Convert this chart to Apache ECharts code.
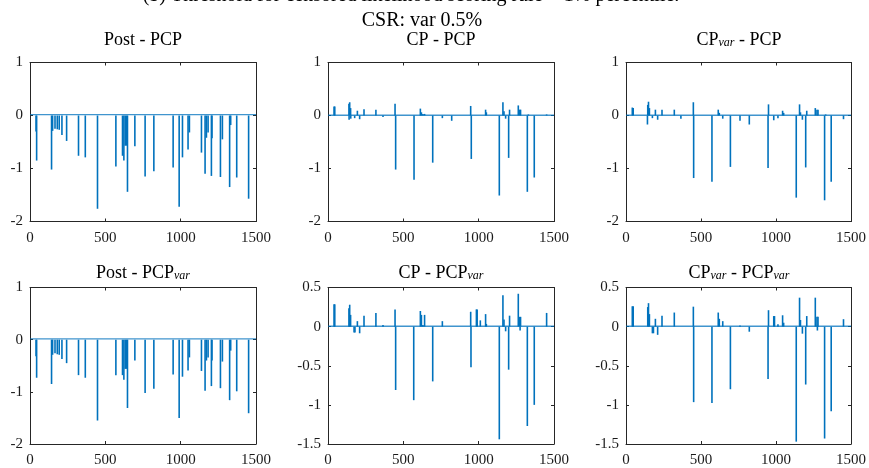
<!DOCTYPE html>
<html>
<head>
<meta charset="utf-8">
<script src="https://cdn.jsdelivr.net/npm/echarts@6/dist/echarts.min.js"></script>
<style>html,body{margin:0;padding:0;background:#fff}#c{width:869px;height:468px}</style>
</head>
<body>
<div id="c"></div>
<script>
// ---- Data ----
const mainTitle1 = '(b) Threshold for censored likelihood scoring rule = 1% percentile.';
const mainTitle2 = 'CSR: var 0.5%';
const xTicks = [0, 500, 1000, 1500];

const postPcp = [[40,-0.3],[44,-0.85],[143,-1.02],[150,-0.29],[166,-0.25],[181,-0.26],[194,-0.27],[212,-0.37],[243,-0.48],[322,-0.76],[367,-0.79],[448,-1.76],[570,-0.96],[614,-0.76],[623,-0.85],[632,-0.57],[641,-0.57],[647,-1.44],[696,-0.58],[764,-1.15],[822,-1.05],[950,-0.98],[990,-1.72],[1012,-0.79],[1049,-0.64],[1058,-0.32],[1138,-0.70],[1162,-1.10],[1171,-0.42],[1182,-0.32],[1204,-1.14],[1208,-0.43],[1264,-1.16],[1277,-0.45],[1325,-1.35],[1332,-0.18],[1372,-1.17],[1451,-1.57]];

const cpPcp = [[40,0.17],[45,0.17],[139,0.22],[140,-0.08],[144,0.25],[150,0.14],[151,-0.06],[177,-0.05],[195,0.09],[210,-0.07],[239,0.12],[318,0.11],[365,-0.03],[445,0.22],[449,-1.02],[571,-1.21],[613,0.13],[620,0.06],[630,0.03],[641,0.03],[695,-0.89],[759,-0.05],[821,-0.10],[947,0.18],[951,-0.82],[1046,0.11],[1051,0.06],[1137,-1.51],[1161,0.25],[1168,0.08],[1179,-0.06],[1199,-0.80],[1205,0.11],[1263,0.19],[1272,0.11],[1278,0.11],[1323,-1.44],[1330,0.02],[1369,-1.17],[1451,0.02]];

const cpVarPcp = [[42,0.15],[48,0.14],[143,-0.17],[145,0.20],[150,0.26],[156,0.14],[176,-0.05],[196,0.11],[211,-0.08],[240,0.11],[322,0.11],[366,-0.06],[449,0.25],[451,-1.18],[573,-1.25],[615,0.11],[622,0.05],[645,-0.06],[696,-0.97],[760,-0.10],[822,-0.17],[947,-0.99],[950,0.21],[985,-0.09],[1013,-0.05],[1044,0.09],[1051,0.05],[1135,-1.55],[1157,0.21],[1163,0.06],[1176,-0.08],[1198,-0.98],[1205,0.09],[1262,0.14],[1273,0.11],[1280,0.11],[1324,-1.60],[1331,0.02],[1368,-1.25],[1450,-0.07]];

const postPcpVar = [[40,-0.32],[44,-0.73],[143,-0.85],[150,-0.29],[166,-0.26],[181,-0.28],[194,-0.29],[212,-0.37],[243,-0.45],[322,-0.68],[367,-0.73],[448,-1.55],[570,-0.68],[614,-0.68],[623,-0.77],[632,-0.56],[641,-0.56],[647,-1.31],[696,-0.40],[764,-1.02],[822,-0.94],[950,-0.67],[990,-1.50],[1012,-0.71],[1049,-0.59],[1058,-0.34],[1138,-0.60],[1162,-0.98],[1171,-0.40],[1182,-0.34],[1204,-0.89],[1208,-0.40],[1264,-0.93],[1277,-0.42],[1325,-1.16],[1332,-0.21],[1372,-0.99],[1451,-1.41]];

const cpPcpVar = [[40,0.285],[45,0.285],[139,0.235],[144,0.28],[150,0.15],[173,-0.075],[179,-0.075],[195,0.07],[210,-0.085],[239,0.14],[318,0.175],[365,0.02],[445,0.22],[449,-0.81],[569,-0.94],[613,0.20],[620,0.15],[630,0.02],[641,0.15],[695,-0.70],[759,0.07],[947,0.19],[949,-0.52],[985,0.22],[990,0.22],[1011,0.08],[1046,0.16],[1051,0.035],[1137,-1.44],[1161,0.40],[1168,0.09],[1179,-0.06],[1199,-0.55],[1205,0.14],[1263,0.42],[1272,0.125],[1275,-0.05],[1278,0.125],[1323,-1.27],[1369,-1.00],[1451,0.175]];

const cpVarPcpVar = [[42,0.26],[48,0.26],[145,0.25],[150,0.30],[156,0.16],[176,-0.085],[183,-0.085],[196,0.10],[211,-0.105],[240,0.14],[322,0.18],[449,0.255],[451,-0.965],[573,-0.975],[615,0.18],[622,0.10],[645,0.07],[696,-0.80],[760,0.015],[822,-0.065],[947,-0.67],[950,0.21],[985,0.135],[990,0.135],[1013,0.03],[1044,0.145],[1051,0.05],[1135,-1.47],[1157,0.37],[1163,0.085],[1176,-0.09],[1198,-0.74],[1205,0.135],[1262,0.37],[1273,0.125],[1276,-0.05],[1280,0.125],[1324,-1.43],[1368,-1.08],[1450,0.095]];

// near-zero baseline of each series (small noise around 0)
const baselinePost = [[1,0.015],[1500,0.015]];
const baselineCp = [[1,0.005],[1500,0.005]];

// panel titles: [main part, subscript, rest, subscript]
const panels = [
  {t:['Post - PCP','',''], data: postPcp, base: baselinePost, yMin:-2, yMax:1, yInt:1},
  {t:['CP - PCP','',''], data: cpPcp, base: baselineCp, yMin:-2, yMax:1, yInt:1},
  {t:['CP','var',' - PCP'], data: cpVarPcp, base: baselineCp, yMin:-2, yMax:1, yInt:1},
  {t:['Post - PCP','var',''], data: postPcpVar, base: baselinePost, yMin:-2, yMax:1, yInt:1},
  {t:['CP - PCP','var',''], data: cpPcpVar, base: baselineCp, yMin:-1.5, yMax:0.5, yInt:0.5},
  {t:['CP','var',' - PCP','var'], data: cpVarPcpVar, base: baselineCp, yMin:-1.5, yMax:0.5, yInt:0.5}
];

// ---- Layout ----
const colLeft = [30, 328, 626];
const rowTop = [62.5, 287.5];
const gW = 226, gH = 159;
const axisColor = '#262626';
const blue = '#0072BD';
const fontFam = '"Liberation Serif", "Times New Roman", serif';

const grid = [], xAxis = [], yAxis = [], series = [], graphic = [];

panels.forEach((p, i) => {
  const r = Math.floor(i / 3), c = i % 3;
  grid.push({left: colLeft[c], top: rowTop[r], width: gW, height: gH, containLabel: false});
  const xb = {
    type: 'value', gridIndex: i, min: 0, max: 1500, interval: 500,
    axisLine: {show: true, onZero: false, lineStyle: {color: axisColor, width: 1}},
    axisTick: {show: true, inside: true, length: 3, lineStyle: {color: axisColor}},
    splitLine: {show: false}
  };
  xAxis.push(Object.assign({}, xb, {position: 'bottom',
    axisLabel: {show: true, margin: 9, color: '#1a1a1a', fontFamily: fontFam, fontSize: 15,
      formatter: v => String(v)}}));
  xAxis.push(Object.assign({}, xb, {position: 'top', axisLabel: {show: false}}));
  const yb = {
    type: 'value', gridIndex: i, min: p.yMin, max: p.yMax, interval: p.yInt,
    axisLine: {show: true, onZero: false, lineStyle: {color: axisColor, width: 1}},
    axisTick: {show: true, inside: true, length: 3, lineStyle: {color: axisColor}},
    splitLine: {show: false}
  };
  yAxis.push(Object.assign({}, yb, {position: 'left',
    axisLabel: {show: true, margin: 7, color: '#1a1a1a', fontFamily: fontFam, fontSize: 15,
      formatter: v => String(v)}}));
  yAxis.push(Object.assign({}, yb, {position: 'right', axisLabel: {show: false}}));

  series.push({
    type: 'line', xAxisIndex: 2*i, yAxisIndex: 2*i, data: p.base,
    showSymbol: false, symbol: 'none', silent: true, z: 1,
    lineStyle: {color: blue, width: 1.3, opacity: 0.75}
  });
  series.push({
    type: 'bar', xAxisIndex: 2*i, yAxisIndex: 2*i, data: p.data,
    barWidth: 1.6, barGap: '-100%', silent: true, z: 2,
    itemStyle: {color: blue}
  });

  // subplot title
  const rich = {
    n: {fontFamily: fontFam, fontSize: 18, lineHeight: 18, fill: '#000', color: '#000'},
    s: {fontFamily: fontFam, fontSize: 12, fontStyle: 'italic', lineHeight: 6, verticalAlign: 'bottom', fill: '#000', color: '#000'}
  };
  let txt = '{n|' + p.t[0] + '}';
  if (p.t[1]) txt += '{s|' + p.t[1] + '}';
  if (p.t[2]) txt += '{n|' + p.t[2] + '}';
  if (p.t[3]) txt += '{s|' + p.t[3] + '}';
  graphic.push({
    type: 'text', x: colLeft[c] + gW / 2, y: r === 0 ? 40 : 273,
    style: {text: txt, rich: rich, align: 'center', verticalAlign: 'middle',
      fontFamily: fontFam, fontSize: 18, fill: '#000'}
  });
});

graphic.push({type: 'text', x: 411, y: -4,
  style: {text: mainTitle1, fontFamily: fontFam, fontSize: 20, fill: '#000', align: 'center', verticalAlign: 'middle'}});
graphic.push({type: 'text', x: 422, y: 21,
  style: {text: mainTitle2, fontFamily: fontFam, fontSize: 20, fill: '#000', align: 'center', verticalAlign: 'middle'}});

const chart = echarts.init(document.getElementById('c'), null, {renderer: 'canvas'});
chart.setOption({
  animation: false,
  backgroundColor: '#fff',
  grid, xAxis, yAxis, series, graphic
});
</script>
</body>
</html>
